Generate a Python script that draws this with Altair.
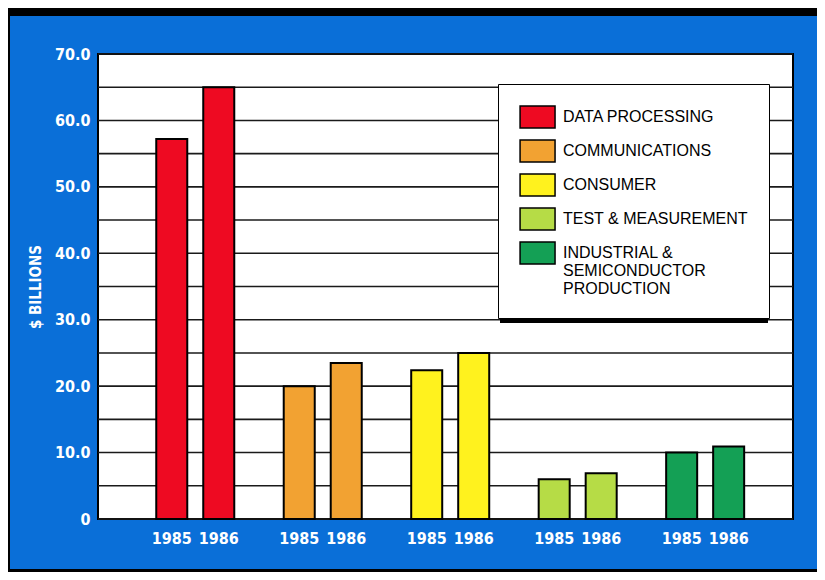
import altair as alt
import pandas as pd

categories = ["DATA PROCESSING", "COMMUNICATIONS", "CONSUMER", "TEST & MEASUREMENT", "INDUSTRIAL"]
years = ["1985", "1986"]
values_1985 = [57.2, 20.0, 22.4, 6.0, 10.0]
values_1986 = [65.0, 23.5, 25.0, 6.9, 10.9]
colors = ["#ee0a22", "#f2a232", "#fff21e", "#b6dc46", "#14a055"]
y_ticks = [0, 5, 10, 15, 20, 25, 30, 35, 40, 45, 50, 55, 60, 65, 70]

rows = []
for c, v5, v6 in zip(categories, values_1985, values_1986):
    rows.append({"sector": c, "year": years[0], "value": v5})
    rows.append({"sector": c, "year": years[1], "value": v6})
df = pd.DataFrame(rows)
grid_df = pd.DataFrame({"value": y_ticks})

BLUE = "#0a6fd8"
COND = "Liberation Sans Narrow, DejaVu Sans Condensed, sans-serif"
W, H = 695, 465

x_enc = alt.X("sector:N", sort=categories, axis=None,
              scale=alt.Scale(paddingInner=0.388, paddingOuter=0.42, align=0.544))
xo_enc = alt.XOffset("year:N", sort=years, scale=alt.Scale(paddingInner=0.34, paddingOuter=0))
y_scale = alt.Scale(domain=[0, 70], nice=False)
y_axis = alt.Axis(values=y_ticks,
                  labelExpr="datum.value % 10 == 0 ? (datum.value == 0 ? '0' : format(datum.value, '.1f')) : ''",
                  title="$ BILLIONS", grid=False,
                  ticks=False, domain=False,
                  labelColor="white", labelFont=COND, labelFontSize=16, labelFontWeight="bold",
                  labelPadding=8, titleColor="white", titleFont=COND, titleFontSize=15,
                  titleFontWeight="bold", titlePadding=11)

grid = alt.Chart(grid_df).mark_rule(color="#1a1a1a", strokeWidth=1.6).encode(
    y=alt.Y("value:Q", scale=y_scale, axis=y_axis, title="$ BILLIONS")
)

bars = alt.Chart(df).mark_bar(stroke="black", strokeWidth=2).encode(
    x=x_enc,
    xOffset=xo_enc,
    y=alt.Y("value:Q", scale=y_scale, axis=y_axis, title="$ BILLIONS"),
    color=alt.Color("sector:N", sort=categories,
                    scale=alt.Scale(domain=categories, range=colors),
                    legend=alt.Legend(title=None, orient="none", legendX=400, legendY=30,
                                      fillColor="white", strokeColor="black", padding=21,
                                      symbolType="M-1,-1H2.2V1H-1Z", symbolSize=478,
                                      symbolStrokeColor="black", symbolStrokeWidth=1.5,
                                      symbolOpacity=1,
                                      labelFont="Liberation Sans, Arial, sans-serif", labelFontSize=16,
                                      labelColor="black", labelOffset=20, labelLimit=300,
                                      rowPadding=6,
                                      labelExpr="datum.label == 'INDUSTRIAL' ? ['INDUSTRIAL &', 'SEMICONDUCTOR', 'PRODUCTION'] : datum.label")),
)

year_text = alt.Chart(df).mark_text(color="white", font=COND, fontSize=16, fontWeight="bold",
                                    baseline="middle", dy=20).encode(
    x=x_enc,
    xOffset=xo_enc,
    y=alt.datum(0),
    text="year:N",
)

deco = pd.DataFrame({"k": [0]})
top_strip = alt.Chart(deco).mark_rect(color="black").encode(
    x=alt.value(-90), x2=alt.value(W + 24), y=alt.value(-47), y2=alt.value(-38))
left_strip = alt.Chart(deco).mark_rect(color="black").encode(
    x=alt.value(-90), x2=alt.value(-88), y=alt.value(-46), y2=alt.value(H + 53))
bottom_strip = alt.Chart(deco).mark_rect(color="black").encode(
    x=alt.value(-90), x2=alt.value(W + 24), y=alt.value(H + 50), y2=alt.value(H + 53))
legend_shadow = alt.Chart(deco).mark_rule(color="black", strokeWidth=4).encode(
    x=alt.value(402), x2=alt.value(670), y=alt.value(267))

chart = alt.layer(grid, bars, year_text, legend_shadow, top_strip, left_strip, bottom_strip).properties(
    width=W, height=H,
    background=BLUE,
    padding={"left": 90, "top": 46, "right": 24, "bottom": 53},
    autosize=alt.AutoSizeParams(type="none"),
).configure_view(stroke="black", strokeWidth=2, fill="white")

chart.save("out.html", embed_options={"renderer": "svg", "actions": False})
